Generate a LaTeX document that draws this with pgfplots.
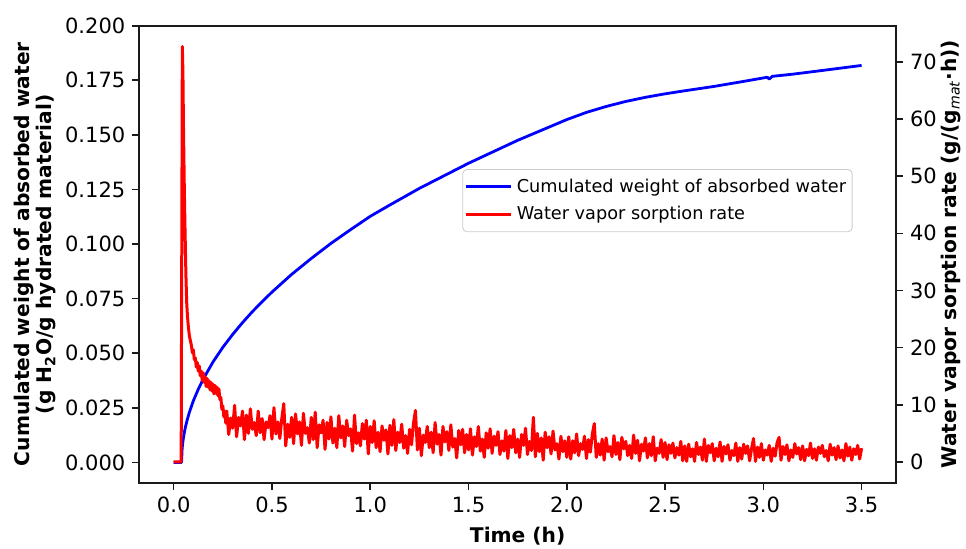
\documentclass[border=0pt]{standalone}
\usepackage{pgfplots}
\pgfplotsset{compat=1.18}
\usepackage{pgfplotstable}
\usepackage{fontspec}
\setmainfont{DejaVu Sans}

\pgfplotstableread{
t v
0.000 0
0.040 0
0.043 0.0063
0.046 0.0089
0.050 0.0115
0.055 0.0141
0.060 0.0163
0.070 0.0199
0.080 0.0230
0.100 0.0282
0.125 0.0335
0.150 0.0381
0.200 0.0460
0.250 0.0527
0.300 0.0586
0.350 0.0640
0.400 0.0690
0.450 0.0736
0.500 0.0780
0.600 0.0861
0.700 0.0934
0.800 0.1003
0.900 0.1066
1.000 0.1127
1.100 0.1179
1.250 0.1255
1.500 0.1370
1.750 0.1475
2.000 0.1570
2.100 0.1603
2.200 0.1630
2.300 0.1653
2.400 0.1672
2.500 0.1688
2.600 0.1702
2.750 0.1722
2.900 0.1745
3.020 0.1764
3.030 0.1755
3.045 0.1768
3.150 0.1778
3.300 0.1795
3.500 0.1818
}\bluedata

\pgfplotstableread{
t r
0.000 0
0.038 0
0.044 72.7
0.047 68
0.050 58
0.054 48
0.058 40
0.062 33
0.066 28
0.070 25.5
0.075 23.5
0.080 22
0.085 21.2
0.090 20.4
0.095 19.1
0.100 19.6
0.105 17.9
0.110 18.2
0.115 16.6
0.120 17.4
0.125 15.9
0.130 16.8
0.135 15.1
0.140 15.9
0.145 14.3
0.150 15.6
0.155 13.9
0.160 14.9
0.165 13.2
0.170 14.6
0.175 13.1
0.180 14.2
0.185 12.6
0.190 13.9
0.195 12.4
0.200 13.6
0.205 11.9
0.210 13.4
0.215 12.0
0.220 13.1
0.225 11.6
0.230 12.8
0.235 10.9
0.240 11.3
0.245 9.2
0.250 9.8
0.255 7.9
0.260 8.9
0.265 6.8
0.27 8.9
0.28 4.8
0.29 7.7
0.30 5.9
0.31 9.9
0.32 4.4
0.33 7.8
0.34 6.3
0.35 8.9
0.36 3.9
0.37 8.2
0.38 5.0
0.39 9.3
0.40 5.7
0.41 6.9
0.42 4.6
0.43 8.9
0.44 5.1
0.45 7.6
0.46 3.9
0.47 7.0
0.48 6.0
0.49 8.1
0.50 4.0
0.51 9.5
0.52 4.9
0.53 7.0
0.54 4.1
0.55 7.6
0.56 10.2
0.57 2.8
0.58 6.6
0.59 4.3
0.60 7.8
0.61 3.2
0.62 8.4
0.63 4.9
0.64 7.0
0.65 2.9
0.66 8.5
0.67 5.0
0.68 6.0
0.69 3.3
0.70 7.8
0.71 3.9
0.72 8.7
0.73 2.5
0.74 6.5
0.75 5.1
0.76 7.3
0.77 2.2
0.78 6.9
0.79 4.0
0.80 7.9
0.81 3.3
0.82 5.9
0.83 2.5
0.84 8.1
0.85 4.2
0.86 6.3
0.87 2.7
0.88 7.3
0.89 4.6
0.90 5.8
0.91 1.9
0.92 8.2
0.93 3.2
0.94 5.1
0.95 2.8
0.96 6.7
0.97 4.0
0.98 7.3
0.99 1.4
1.00 6.2
1.01 3.4
1.02 7.2
1.03 2.5
1.04 5.2
1.05 1.8
1.06 6.3
1.07 3.8
1.08 5.6
1.09 1.4
1.10 6.4
1.11 2.9
1.12 7.4
1.13 2.0
1.14 5.2
1.15 3.4
1.16 6.6
1.17 2.4
1.18 4.6
1.19 1.5
1.20 5.7
1.21 3.0
1.22 6.8
1.23 9.0
1.24 2.1
1.25 5.9
1.26 1.1
1.27 4.7
1.28 3.4
1.29 6.2
1.30 2.5
1.31 5.2
1.32 1.6
1.33 6.9
1.34 3.1
1.35 4.8
1.36 1.2
1.37 6.2
1.38 3.5
1.39 5.3
1.40 2.0
1.41 6.5
1.42 2.6
1.43 4.1
1.44 0.7
1.45 5.5
1.46 3.0
1.47 5.7
1.48 1.6
1.49 4.8
1.50 2.1
1.51 5.8
1.52 1.2
1.53 4.4
1.54 2.7
1.55 6.2
1.56 1.9
1.57 4.0
1.58 0.8
1.59 5.1
1.60 2.4
1.61 5.8
1.62 1.5
1.63 4.5
1.64 2.9
1.65 5.3
1.66 1.3
1.67 3.7
1.68 1.9
1.69 5.5
1.70 0.6
1.71 4.6
1.72 2.5
1.73 5.7
1.74 1.6
1.75 4.0
1.76 0.8
1.77 4.8
1.78 2.9
1.79 5.9
1.80 1.3
1.81 3.6
1.82 2.0
1.83 7.8
1.84 0.9
1.85 5.0
1.86 1.8
1.87 4.2
1.88 0.3
1.89 5.2
1.90 2.5
1.91 4.4
1.92 1.4
1.93 5.4
1.94 2.1
1.95 3.2
1.96 0.5
1.97 4.5
1.98 1.8
1.99 3.7
2.00 0.8
2.01 4.4
2.02 0.5
2.03 3.7
2.04 1.6
2.05 4.9
2.06 1.1
2.07 3.2
2.08 2.2
2.09 4.5
2.10 0.6
2.11 3.9
2.12 1.7
2.13 4.9
2.14 6.7
2.15 0.8
2.16 3.2
2.17 1.2
2.18 4.0
2.19 0.3
2.20 4.2
2.21 1.8
2.22 2.7
2.23 0.9
2.24 4.6
2.25 1.3
2.26 3.4
2.27 0.4
2.28 4.3
2.29 2.3
2.30 3.6
2.31 1.1
2.32 2.9
2.33 0.6
2.34 4.7
2.35 1.5
2.36 3.8
2.37 0.2
2.38 3.1
2.39 1.9
2.40 4.2
2.41 0.7
2.42 3.2
2.43 1.1
2.44 4.4
2.45 0.2
2.46 2.4
2.47 1.5
2.48 3.9
2.49 0.8
2.50 3.4
2.51 0.4
2.52 3.0
2.53 1.5
2.54 3.3
2.55 0.7
2.56 2.5
2.57 1.2
2.58 3.6
2.59 0.2
2.60 2.8
2.61 0.1
2.62 3.1
2.63 0.9
2.64 2.3
2.65 0.1
2.66 3.4
2.67 1.3
2.68 2.6
2.69 0.3
2.70 4.0
2.71 0.1
2.72 2.9
2.73 1.6
2.74 3.2
2.75 0.2
2.76 2.4
2.77 0.9
2.78 3.5
2.79 0.1
2.80 2.7
2.81 1.4
2.82 3.0
2.83 0.3
2.84 2.0
2.85 1.1
2.86 3.3
2.87 0.1
2.88 2.5
2.89 0.5
2.90 3.1
2.91 1.5
2.92 2.8
2.93 0.2
2.94 2.3
2.95 4.1
2.96 0.1
2.97 2.6
2.98 0.8
2.99 3.2
3.00 0.3
3.01 2.1
3.02 1.2
3.03 2.9
3.04 0.1
3.05 2.4
3.06 1.0
3.07 3.4
3.08 4.3
3.09 0.3
3.10 2.7
3.11 1.3
3.12 3.0
3.13 0.2
3.14 2.1
3.15 0.8
3.16 3.2
3.17 1.4
3.18 2.5
3.19 0.4
3.20 2.8
3.21 0.2
3.22 2.2
3.23 1.1
3.24 3.3
3.25 0.6
3.26 2.3
3.27 0.3
3.28 2.6
3.29 1.5
3.30 2.9
3.31 0.9
3.32 2.0
3.33 0.2
3.34 3.1
3.35 1.2
3.36 2.5
3.37 0.4
3.38 2.8
3.39 0.7
3.40 2.1
3.41 0.2
3.42 3.2
3.43 1.0
3.44 2.6
3.45 0.3
3.46 2.3
3.47 1.3
3.48 2.9
3.49 0.5
3.50 2.4
}\reddata

\definecolor{spine}{HTML}{1A1A1A}
\pgfplotsset{
  common/.style={
    scale only axis,
    width=378.35pt, height=228.5pt,
    xmin=-0.175, xmax=3.675,
    tick align=outside,
    major tick length=3.5pt,
    every tick/.style={spine, line width=0.8pt},
    axis line style={spine, line width=0.8pt},
    tick label style={font=\fontsize{10.5}{12}\selectfont, text=black},
    label style={font=\fontsize{10.1}{11}\selectfont\bfseries},
    /pgf/number format/assume math mode=true,
    clip=true,
  }
}

\begin{document}
\begin{tikzpicture}
\begin{axis}[common, name=ax1,
  ymin=-0.0093, ymax=0.2,
  xtick={0,0.5,...,3.5},
  xticklabel style={/pgf/number format/fixed, /pgf/number format/precision=1, /pgf/number format/fixed zerofill},
  ytick={0,0.025,...,0.2},
  scaled y ticks=false,
  yticklabel style={/pgf/number format/fixed, /pgf/number format/precision=3, /pgf/number format/fixed zerofill},
  xtick pos=bottom, ytick pos=left,
  xlabel={Time (h)},
  xlabel style={at={(axis description cs:0.5,-0.116)}, anchor=center},
  ylabel={Cumulated weight of absorbed water\\(g H\textsubscript{2}O/g hydrated material)},
  ylabel style={at={(axis description cs:-0.1375,0.5)}, anchor=center, align=center},
]
\addplot[blue, line width=1.4pt, line join=round] table[x=t, y=v] {\bluedata};
\end{axis}
\begin{axis}[common,
  axis x line=none,
  axis y line*=right,
  ymin=-3.635, ymax=76.335,
  ytick={0,10,...,70},
  ylabel={Water vapor sorption rate (g/(g\textsubscript{\normalfont\itshape mat}·h))},
  ylabel style={at={(axis description cs:1.0727,0.5)}, anchor=center},
  legend style={at={(rel axis cs:0.427,0.686)}, anchor=north west,
    font=\fontsize{8.85}{10}\selectfont, draw=black!20, rounded corners=2pt,
    fill=white, inner xsep=1pt, inner ysep=2.5pt, row sep=1.6pt},
  legend cell align=left,
  legend image code/.code={\draw[#1] (0pt,0pt) -- (19pt,0pt); \path (0pt,0pt) -- (22.5pt,0pt);},
]
\addlegendimage{blue, line width=1.4pt}
\addlegendentry{Cumulated weight of absorbed water}
\addplot[red, line width=1.5pt, line join=round] table[x=t, y=r] {\reddata};
\addlegendentry{Water vapor sorption rate}
\end{axis}
\pgfresetboundingbox
\path ([shift={(-69.65pt,-32.65pt)}]ax1.south west) rectangle ([shift={(35pt,12.85pt)}]ax1.north east);
\end{tikzpicture}
\end{document}
